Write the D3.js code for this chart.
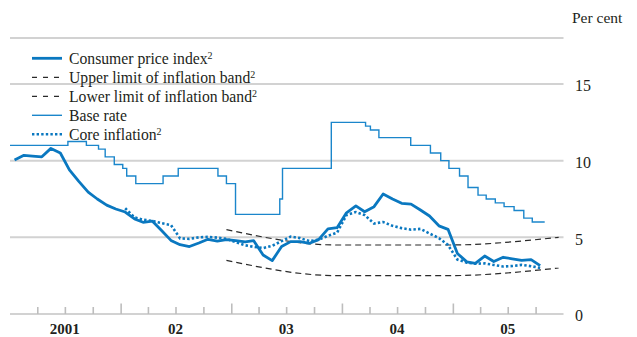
<!DOCTYPE html>
<html>
<head>
<meta charset="utf-8">
<script src="https://cdn.jsdelivr.net/npm/d3@7"></script>
<style>
  html, body { margin: 0; padding: 0; background: #fff; }
  svg { display: block; font-family: "Liberation Serif", "Times New Roman", serif; }
</style>
</head>
<body>
<svg id="chart" width="637" height="337"></svg>
<script>
// ---- data ---------------------------------------------------------------
const yearLabels = ["2001", "02", "03", "04", "05"];
const yTicks = [0, 5, 10, 15];

// Consumer price index, 12-month % change, monthly from Jan 2001
const cpiStart = "2001-01";
const cpi = [
  10.05, 10.35, 10.3, 10.25, 10.8, 10.5, 9.4, 8.65, 7.95, 7.5, 7.1, 6.85,
  6.65, 6.2, 5.98, 6.05, 5.45, 4.8, 4.52, 4.4, 4.63, 4.87, 4.76, 4.85,
  4.78, 4.7, 4.78, 3.85, 3.48, 4.4, 4.72, 4.72, 4.61, 4.85, 5.55, 5.63,
  6.6, 7.05, 6.67, 7.0, 7.83, 7.5, 7.22, 7.17, 6.78, 6.39, 5.75, 5.52,
  3.95, 3.4, 3.3, 3.78, 3.42, 3.7, 3.6, 3.5, 3.55, 3.15
];

// Core inflation, monthly from Jan 2002
const coreStart = "2002-01";
const core = [
  6.9, 6.3, 6.15, 6.07, 5.92, 5.8, 4.93, 4.9, 5.0, 5.03, 4.98, 4.9,
  4.68, 4.48, 4.38, 4.3, 4.45, 4.75, 5.05, 4.95, 4.75, 4.85, 5.1, 5.3,
  6.45, 6.65, 6.45, 5.9, 6.0, 5.75, 5.6, 5.5, 5.55, 5.25, 4.95, 4.5,
  3.55, 3.35, 3.28, 3.3, 3.2, 3.1, 3.13, 3.2, 3.12, 3.0
];

// Inflation target band (December targets ±1 percentage point)
const bandMonths = ["2002-12", "2003-12", "2004-12", "2005-12"];
const bandUpper = [5.5, 4.5, 4.5, 5.0];
const bandLower = [3.5, 2.5, 2.5, 3.0];

// Central bank base rate: effective dates of each change
const baseRateDates = [
  "2001-01-01", "2001-07-11", "2001-09-10", "2001-10-20", "2001-11-11", "2001-12-11",
  "2002-01-08", "2002-01-21", "2002-02-20", "2002-05-21", "2002-07-10", "2002-11-18",
  "2002-12-16", "2003-01-15", "2003-06-10", "2003-06-19", "2003-11-27", "2004-03-19",
  "2004-04-04", "2004-05-02", "2004-08-15", "2004-10-19", "2004-11-22", "2004-12-19",
  "2005-01-23", "2005-02-20", "2005-03-25", "2005-04-21", "2005-05-21", "2005-06-19",
  "2005-07-22", "2005-08-23", "2005-09-20"
];
const baseRateValues = [
  11.0, 11.25, 11.0, 10.75, 10.25, 9.75,
  9.5, 9.0, 8.5, 9.0, 9.5, 9.0,
  8.5, 6.5, 7.5, 9.5, 12.5, 12.25,
  12.0, 11.5, 11.0, 10.5, 10.0, 9.5,
  9.0, 8.25, 7.75, 7.5, 7.25, 7.0,
  6.75, 6.25, 6.0
];
const baseRateEnd = "2005-10-31";

// ---- helpers ------------------------------------------------------------
const parseDay = d3.timeParse("%Y-%m-%d");
const parseMonth = d3.timeParse("%Y-%m");
const midMonth = m => d3.timeDay.offset(parseMonth(m), 15);
const monthly = (start, values) => values.map((v, i) =>
  ({ date: d3.timeDay.offset(d3.timeMonth.offset(parseMonth(start), i), 15), value: v }));

// ---- layout -------------------------------------------------------------
const svg = d3.select("#chart");
const x = d3.scaleTime()
  .domain([new Date(2001, 0, 1), new Date(2006, 0, 1)])
  .range([10, 563.5]);
const y = d3.scaleLinear().domain([0, 18]).range([314, 38]);

const blue = "#0a78c0";
const grid = "#d2d2d2";
const ink = "#231f20";

// horizontal rules
const rules = [18, 15, 10, 5, 0];
svg.append("g").selectAll("line").data(rules).join("line")
  .attr("x1", x.range()[0]).attr("x2", x.range()[1])
  .attr("y1", d => y(d)).attr("y2", d => y(d))
  .attr("stroke", grid).attr("stroke-width", 2);

// quarter ticks pointing up from the baseline, taller at year starts
const quarters = d3.timeMonth.every(3).range(new Date(2001, 3, 1), new Date(2006, 0, 1));
const xAxis = svg.append("g")
  .attr("transform", `translate(0,${y(0)})`)
  .call(d3.axisTop(x).tickValues(quarters).tickSize(7).tickFormat(""));
xAxis.select(".domain").remove();
xAxis.selectAll(".tick line")
  .attr("stroke", "#bdbdbd").attr("stroke-width", 1.6)
  .attr("y2", d => d.getMonth() === 0 ? -10.5 : -7);

// year labels centred on each year
svg.append("g").selectAll("text").data(yearLabels).join("text")
  .attr("x", (d, i) => x(new Date(2001 + i, 6, 1)))
  .attr("y", 334)
  .attr("text-anchor", "middle")
  .attr("font-size", 15).attr("font-weight", "bold").attr("fill", ink)
  .text(d => d);

// right-hand value labels
const yAxis = svg.append("g")
  .attr("transform", `translate(570,0)`)
  .call(d3.axisRight(y).tickValues(yTicks).tickSize(0).tickPadding(5).tickFormat(d3.format("d")));
yAxis.select(".domain").remove();
yAxis.selectAll("text")
  .attr("font-family", "Liberation Serif, serif")
  .attr("font-size", 16).attr("fill", ink).attr("dy", "0.42em");

svg.append("text").attr("x", 572).attr("y", 22.5)
  .attr("font-size", 15.5).attr("fill", ink).text("Per cent");

// ---- series -------------------------------------------------------------
const line = d3.line().x(d => x(d.date)).y(d => y(d.value));

// base rate (step)
const basePts = baseRateDates.map((d, i) => ({ date: parseDay(d), value: baseRateValues[i] }));
basePts.push({ date: parseDay(baseRateEnd), value: baseRateValues[baseRateValues.length - 1] });
svg.append("path").datum(basePts)
  .attr("d", line.curve(d3.curveStepAfter))
  .attr("fill", "none").attr("stroke", "#1b86cb").attr("stroke-width", 1.4);

// inflation band
const bandLine = d3.line().x(d => x(d.date)).y(d => y(d.value)).curve(d3.curveMonotoneX);
[bandUpper, bandLower].forEach(vals => {
  svg.append("path")
    .datum(bandMonths.map((m, i) => ({ date: midMonth(m), value: vals[i] })))
    .attr("d", bandLine)
    .attr("fill", "none").attr("stroke", "#2a2a2a").attr("stroke-width", 1.2)
    .attr("stroke-dasharray", "6,4");
});

const lin = d3.line().x(d => x(d.date)).y(d => y(d.value)).curve(d3.curveLinear);

// core inflation (dotted)
svg.append("path").datum(monthly(coreStart, core))
  .attr("d", lin)
  .attr("fill", "none").attr("stroke", blue).attr("stroke-width", 2.6)
  .attr("stroke-dasharray", "2.4,2.2");

// consumer price index
svg.append("path").datum(monthly(cpiStart, cpi))
  .attr("d", lin)
  .attr("fill", "none").attr("stroke", blue).attr("stroke-width", 2.8)
  .attr("stroke-linejoin", "round");

// ---- legend -------------------------------------------------------------
const legendItems = [
  { label: "Consumer price index", sup: "2", stroke: blue, width: 2.8, dash: null },
  { label: "Upper limit of inflation band", sup: "2", stroke: "#2a2a2a", width: 1.3, dash: "5,6" },
  { label: "Lower limit of inflation band", sup: "2", stroke: "#2a2a2a", width: 1.3, dash: "5,6" },
  { label: "Base rate", sup: "", stroke: "#1b86cb", width: 1.4, dash: null },
  { label: "Core inflation", sup: "2", stroke: blue, width: 2.6, dash: "2.4,2.2" }
];
const legend = svg.append("g");
const rows = legend.selectAll("g").data(legendItems).join("g")
  .attr("transform", (d, i) => `translate(0,${58.3 + i * 19})`);
rows.append("line")
  .attr("x1", 32).attr("x2", 62).attr("y1", 0).attr("y2", 0)
  .attr("stroke", d => d.stroke).attr("stroke-width", d => d.width)
  .attr("stroke-dasharray", d => d.dash);
const labels = rows.append("text")
  .attr("x", 69).attr("y", 5.2)
  .attr("font-size", 15.7).attr("fill", ink);
labels.append("tspan").text(d => d.label);
labels.append("tspan").attr("font-size", 10).attr("dy", -5).text(d => d.sup);
</script>
</body>
</html>
